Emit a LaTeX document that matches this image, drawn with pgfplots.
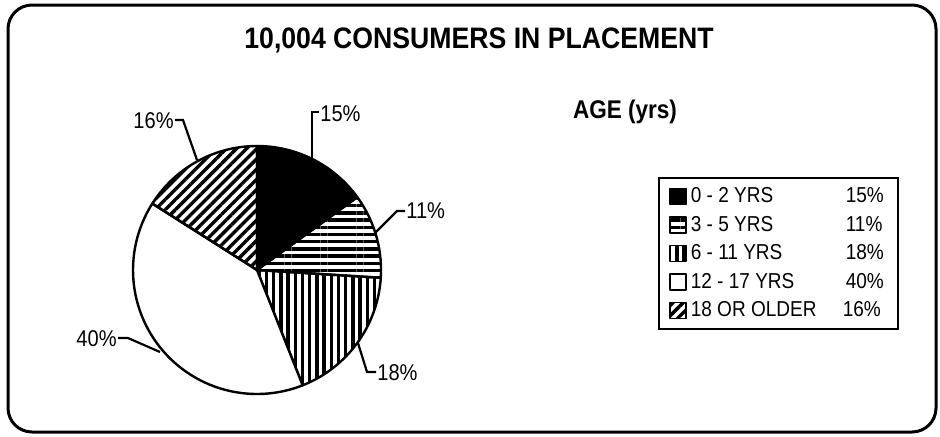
\documentclass[border=0pt]{standalone}
\usepackage{pgfplots}
\pgfplotsset{compat=1.18}
\usepackage{fontspec}
\setmainfont[FakeStretch=0.88]{Liberation Sans}
\newfontfamily\titlefont[FakeStretch=0.9]{Liberation Sans}
\usetikzlibrary{patterns.meta}

% shares in percent, clockwise from 12 o'clock
\def\pA{15}\def\pB{11}\def\pC{18}\def\pD{40}\def\pE{16}
\pgfmathsetmacro\aA{90}
\pgfmathsetmacro\aB{\aA-3.6*\pA}
\pgfmathsetmacro\aC{\aB-3.6*\pB}
\pgfmathsetmacro\aD{\aC-3.6*\pC}
\pgfmathsetmacro\aE{\aD-3.6*\pD}
\pgfmathsetmacro\aF{\aE-3.6*\pE}

\tikzset{
  pie/.style={draw=black, line width=1.2pt, line join=round, samples=60},
  lead/.style={line width=1.1pt},
  pct/.style={inner sep=0pt, font=\fontsize{11.4}{13}\selectfont},
}

\begin{document}
\begin{tikzpicture}
\begin{axis}[
  name=ax,
  width=470pt, height=218pt, scale only axis,
  xmin=0, xmax=940, ymin=0, ymax=436, y dir=reverse,
  hide axis, clip=false,
  legend cell align=left,
  legend image code/.code={\draw[#1, line width=0.9pt] (0pt,-4pt) rectangle (8pt,4pt);},
  legend style={at={(axis cs:658,177)}, anchor=north west,
    draw=black, line width=1pt, inner xsep=5pt, inner ysep=4.5pt,
    font=\fontsize{10.8}{12}\selectfont, row sep=4.75pt,
    nodes={inner ysep=0pt, text height=7.8pt, text depth=1.7pt}},
]
\addplot[pie, fill=black, domain=\aB:\aA]
  ({257+124*cos(x)},{270-124*sin(x)}) -- (257,270) -- cycle;
\addlegendentry{\makebox[77.5pt][l]{0 - 2 YRS}15\%}
\addplot[pie, pattern={Lines[angle=0,distance=3.6pt,line width=1.7pt]}, domain=\aC:\aB]
  ({257+124*cos(x)},{270-124*sin(x)}) -- (257,270) -- cycle;
\addlegendentry{\makebox[77.5pt][l]{3 - 5 YRS}11\%}
\addplot[pie, pattern={Lines[angle=90,distance=3.6pt,line width=1.7pt]}, domain=\aD:\aC]
  ({257+124*cos(x)},{270-124*sin(x)}) -- (257,270) -- cycle;
\addlegendentry{\makebox[77.5pt][l]{6 - 11 YRS}18\%}
\addplot[pie, fill=white, domain=\aE:\aD]
  ({257+124*cos(x)},{270-124*sin(x)}) -- (257,270) -- cycle;
\addlegendentry{\makebox[77.5pt][l]{12 - 17 YRS}40\%}
\addplot[pie, pattern={Lines[angle=45,distance=3.6pt,line width=1.7pt]}, domain=\aF:\aE]
  ({257+124*cos(x)},{270-124*sin(x)}) -- (257,270) -- cycle;
\addlegendentry{\makebox[76pt][l]{18 OR OLDER}16\%}

% frame and titles
\draw[line width=1.5pt, rounded corners=12pt] (8,5) rectangle (936,432);
\node[anchor=base, font=\titlefont\fontsize{14.8}{16}\selectfont\bfseries] at (479,48) {10,004 CONSUMERS IN PLACEMENT};
\node[anchor=base, font=\fontsize{12.8}{14}\selectfont\bfseries] at (625,118) {AGE (yrs)};

% slice labels
\draw[lead] (312,158) -- (312,112) -- (319,112);
\node[pct, anchor=base west] at (320,121) {15\%};
\draw[lead] (375,233) -- (397,211) -- (405,211);
\node[pct, anchor=base west] at (406,218) {11\%};
\draw[lead] (358,343) -- (367,372) -- (376,372);
\node[pct, anchor=base west] at (377,380) {18\%};
\draw[lead] (160,352) -- (128,338) -- (118,338);
\node[pct, anchor=base east] at (117,346) {40\%};
\draw[lead] (197,160) -- (183,120) -- (175,120);
\node[pct, anchor=base east] at (174,128) {16\%};
\end{axis}
\pgfresetboundingbox
\path (ax.south west) rectangle (ax.north east);
\end{tikzpicture}
\end{document}
